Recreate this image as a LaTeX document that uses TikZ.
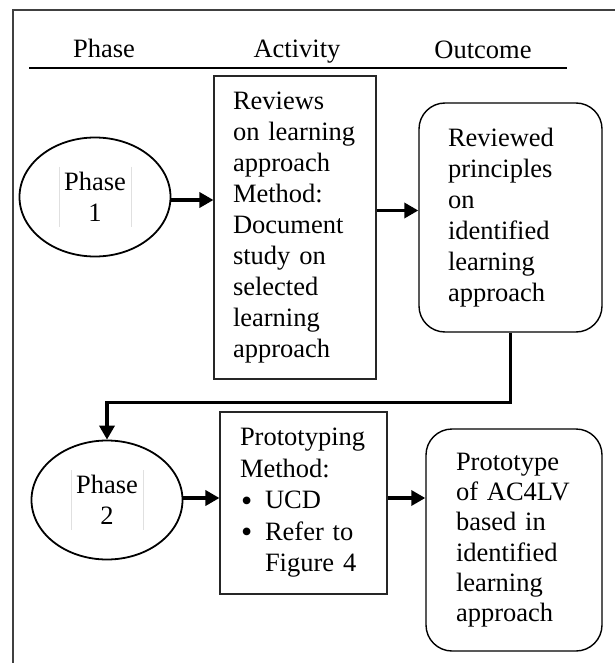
\documentclass[tikz,border=0pt]{standalone}
\usepackage{fontspec}
\setmainfont{Liberation Serif}
\usetikzlibrary{arrows.meta,shapes.geometric}
\hyphenpenalty=10000
\exhyphenpenalty=10000
\newcommand{\bigbul}{\makebox[25pt][l]{\hspace{1pt}\raisebox{-2.5pt}{\fontsize{32}{31}\selectfont\textbullet}}}
\begin{document}
\begin{tikzpicture}[x=1pt,y=-1pt,
  txt/.style={font=\fontsize{26.5}{31}\selectfont},
  hdr/.style={font=\fontsize{26.5}{31}\selectfont,anchor=base,inner sep=0pt},
  actbox/.style={draw=black!85,line width=1.1pt,inner sep=0pt,align=left,txt},
  outbox/.style={draw=black,line width=1.4pt,rounded corners=26pt,inner sep=0pt,align=left,txt},
  phase/.style={draw=black,line width=1.8pt,ellipse,inner sep=0pt,minimum width=151pt,minimum height=119pt,align=center,txt},
  arr/.style={line width=3.4pt,-{Triangle[length=14pt,width=15pt]}},
  faint/.style={draw=black!12,line width=0.8pt},
  frame/.style={draw=black!75,line width=1.1pt}
]
\useasboundingbox (0,0) rectangle (615,663);
\fill[white] (0,0) rectangle (615,663);
% frame
\coordinate (fbl) at (13,663);
\coordinate (ftl) at (13,10);
\coordinate (ftr) at (615,10);
\draw[frame] (fbl) -- (ftl) -- (ftr);
% header
\node[hdr] (hphase) at (104,58) {Phase};
\node[hdr] (hact) at (297,58) {Activity};
\node[hdr] (hout) at (483,59) {Outcome};
\coordinate (rl) at (29,68);
\coordinate (rr) at (567,68);
\draw[line width=2.2pt] (rl) -- (rr);
% row 1
\node[phase] (ell1) at (95,197) {Phase\\1};
\node[actbox,minimum width=162pt,minimum height=303pt,text width=124pt] (box1) at (295,227.5)
  {Reviews\\on learning\\approach\\Method:\\Document\\study on\\selected\\learning\\approach};
\node[outbox,minimum width=183pt,minimum height=229pt,text width=125pt] (rbox1) at (510.5,217.5)
  {Reviewed\\principles\\on\\identified\\learning\\approach};
% row 2
\node[phase] (ell2) at (107,500) {Phase\\2};
\node[actbox,minimum width=167pt,minimum height=182pt,text width=127pt,font=\fontsize{26.5}{31.5}\selectfont] (box2) at (303.5,503)
  {Prototyping\\Method:\\\bigbul UCD\\\bigbul Refer to\\\hspace*{25pt}Figure 4};
\node[outbox,minimum width=176pt,minimum height=222pt,text width=116pt,font=\fontsize{26.5}{30.3}\selectfont] (rbox2) at (514,540)
  {Prototype\\of AC4LV\\based in\\identified\\learning\\approach};
% faint text-frame lines inside ellipses
\foreach \e in {ell1,ell2}{
  \draw[faint] ([xshift=-36pt,yshift=30pt]\e.center) -- ([xshift=-36pt,yshift=-30pt]\e.center);
  \draw[faint] ([xshift=36pt,yshift=30pt]\e.center) -- ([xshift=36pt,yshift=-30pt]\e.center);
}
% connectors
\draw[arr] ([yshift=-3pt]ell1.east) -- ([yshift=-3pt]ell1.east -| box1.west);
\draw[arr] ([yshift=17pt]box1.east) -- ([yshift=17pt]box1.east -| rbox1.west);
\draw[arr] (rbox1.south) -- ++(0,70) -| (ell2.north);
\draw[arr] ([yshift=2pt]ell2.east) -- ([yshift=2pt]ell2.east -| box2.west);
\draw[arr] ([yshift=5pt]box2.east) -- ([yshift=5pt]box2.east -| rbox2.west);
\end{tikzpicture}
\end{document}
